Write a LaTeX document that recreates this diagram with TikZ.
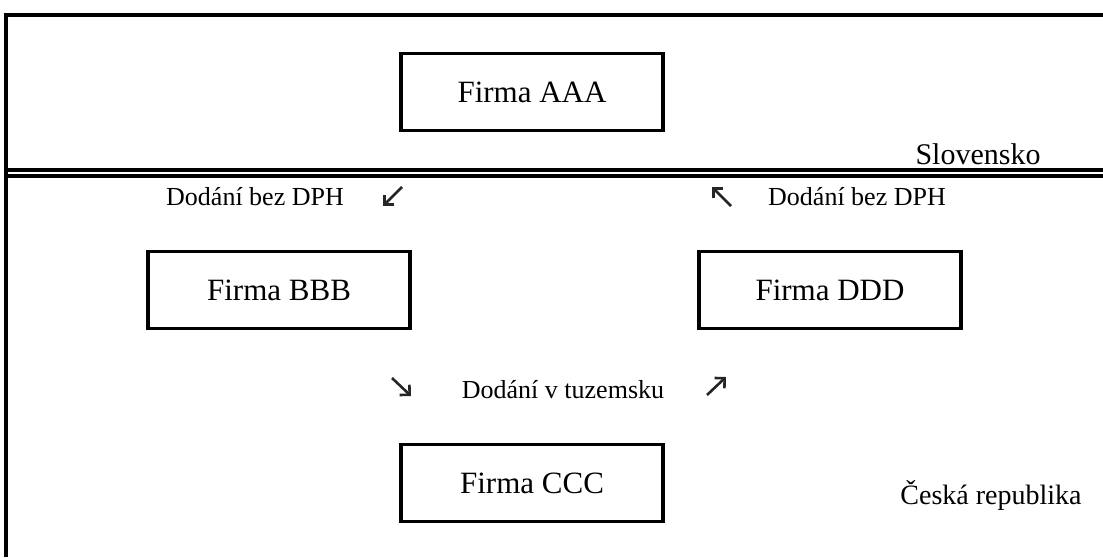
\documentclass[tikz,border=0pt]{standalone}
\usepackage{fontspec}
\setmainfont{Liberation Serif}
\usepackage{tikz}
\usetikzlibrary{arrows.meta,positioning}
\tikzstyle{firm}=[draw=black,line width=1.6pt,minimum width=131pt,minimum height=38.5pt,inner sep=0pt,font=\fontsize{15.5}{17}\selectfont]
\tikzstyle{land}=[inner sep=0pt,font=\fontsize{15}{17}\selectfont]
\tikzstyle{flow}=[inner sep=0pt,font=\fontsize{13}{15}\selectfont]
\tikzstyle{border}=[black,line width=1.6pt]
\tikzstyle{arrow}=[-{Straight Barb[angle=90:5pt,line width=1.3pt]},line width=1.3pt,black!85]

\begin{document}
\begin{tikzpicture}[x=.5pt,y=-.5pt]
	\useasboundingbox (0,0) rectangle (1103,557);

	%frame
	\draw[border] (6,557) -- (6,15) -- (1103,15);
	\draw[border] (6,170) -- (1103,170);
	\draw[border] (6,176) -- (1103,176);

	%firms
	\node[firm] (aaa) at (532,92) {Firma AAA};
	\node[firm] (bbb) at (279,290) {Firma BBB};
	\node[firm] (ddd) at (830,290) {Firma DDD};
	\node[firm] (ccc) at (532,483) {Firma CCC};

	%countries
	\node[land] (sk) at (978,154) {Slovensko};
	\node[land,font=\fontsize{14}{16}\selectfont] (cz) at (991,495) {Česká republika};

	%deliveries
	\node[flow] (dl) at (255,197) {Dodání bez DPH};
	\node[flow] (dr) at (857,197) {Dodání bez DPH};
	\node[flow] (dt) at (563,390) {Dodání v tuzemsku};

	\coordinate (a1) at (402,187); \coordinate (b1) at (383,206);
	\coordinate (a2) at (731,206); \coordinate (b2) at (712,187);
	\coordinate (a3) at (392,378); \coordinate (b3) at (411,396);
	\coordinate (a4) at (707,395); \coordinate (b4) at (726,377);
	\draw[arrow] (a1) -- (b1);
	\draw[arrow] (a2) -- (b2);
	\draw[arrow] (a3) -- (b3);
	\draw[arrow] (a4) -- (b4);
\end{tikzpicture}
\end{document}
